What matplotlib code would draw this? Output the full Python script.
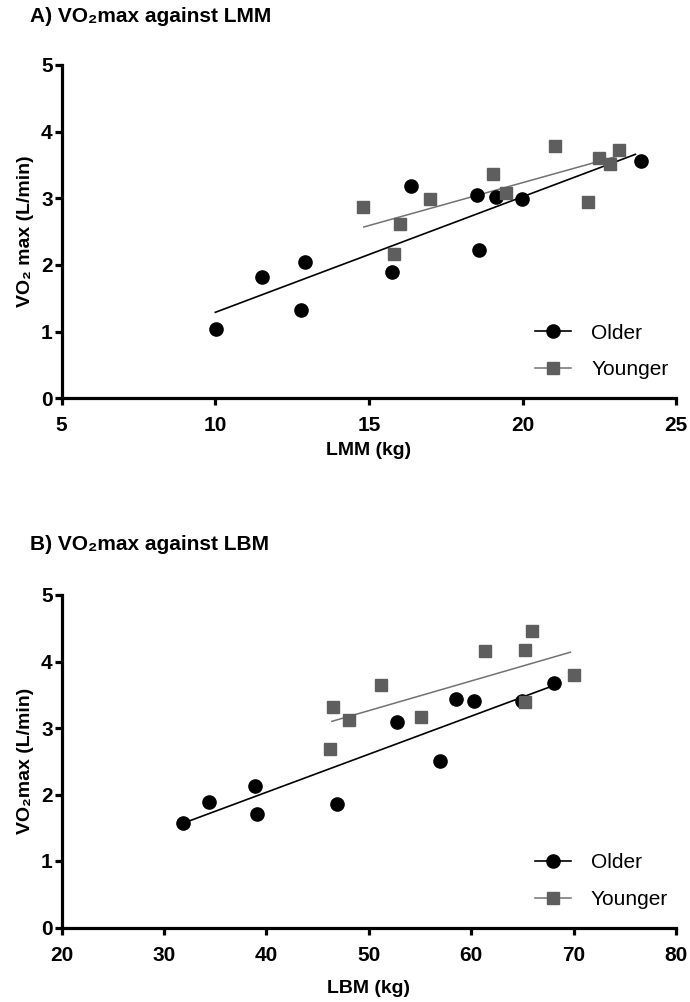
import numpy as np
import matplotlib
matplotlib.use("Agg")
import matplotlib.pyplot as plt
from matplotlib.lines import Line2D

# Panel A: VO2max against LMM
lmm_older = [10.02, 11.53, 12.93, 12.78, 15.76, 16.37, 18.50, 18.58, 19.13, 19.97, 23.85]
vo2_lmm_older = [1.04, 1.82, 2.05, 1.33, 1.89, 3.19, 3.05, 2.22, 3.02, 2.99, 3.56]
lmm_younger = [14.79, 16.00, 15.82, 16.98, 19.04, 19.45, 21.05, 22.13, 22.49, 22.85, 23.15]
vo2_lmm_younger = [2.87, 2.61, 2.16, 2.99, 3.37, 3.08, 3.78, 2.95, 3.60, 3.51, 3.72]
fit_lmm_older_x = [10.0, 23.67]
fit_lmm_older_y = [1.29, 3.66]
fit_lmm_younger_x = [14.83, 23.3]
fit_lmm_younger_y = [2.57, 3.66]

# Panel B: VO2max against LBM
lbm_older = [31.89, 34.43, 38.90, 39.06, 46.91, 52.75, 56.98, 58.54, 60.24, 64.97, 68.12]
vo2_lbm_older = [1.57, 1.88, 2.13, 1.71, 1.86, 3.09, 2.50, 3.44, 3.41, 3.40, 3.67]
lbm_younger = [46.45, 48.02, 46.16, 51.18, 55.12, 61.35, 65.29, 65.94, 65.29, 70.00]
vo2_lbm_younger = [3.32, 3.12, 2.68, 3.64, 3.16, 4.16, 4.18, 4.46, 3.39, 3.79]
fit_lbm_older_x = [31.89, 67.9]
fit_lbm_older_y = [1.57, 3.63]
fit_lbm_younger_x = [46.39, 69.69]
fit_lbm_younger_y = [3.10, 4.14]

labels = ['Older', 'Younger']
xticks_a = [5, 10, 15, 20, 25]
xticks_b = [20, 30, 40, 50, 60, 70, 80]
yticks = [0, 1, 2, 3, 4, 5]

BOLD = ['Liberation Sans Narrow', 'Liberation Sans', 'DejaVu Sans']
REG = ['Liberation Sans', 'DejaVu Sans']
GREY = '#5e5e5e'
GREYLINE = '#727272'

fig = plt.figure(figsize=(6.9, 10.02), dpi=100)

W, H = 690., 1002.


def make_axes(left, right, top, bottom):
    return fig.add_axes([left / W, 1 - bottom / H, (right - left) / W, (bottom - top) / H])


def style(ax, xlim, xticks, xlabel, ylabel, xlabelpad):
    ax.set_xlim(*xlim)
    ax.set_ylim(0, 5)
    ax.set_xticks(xticks)
    ax.set_yticks(yticks)
    for s in ['top', 'right']:
        ax.spines[s].set_visible(False)
    for s in ['left', 'bottom']:
        ax.spines[s].set_linewidth(2.3)
    ax.tick_params(direction='out', length=5, width=2.3, labelsize=15)
    ax.tick_params(axis='x', pad=8)
    ax.tick_params(axis='y', pad=1.5)
    for t in ax.get_xticklabels() + ax.get_yticklabels():
        t.set_fontfamily(BOLD)
        t.set_fontweight('bold')
    ax.set_xlabel(xlabel, fontsize=14, fontweight='bold', family=BOLD, labelpad=xlabelpad)
    ax.set_ylabel(ylabel, fontsize=14, fontweight='bold', family=BOLD, labelpad=5)


def draw(ax, xo, yo, xy, yy, fox, foy, fyx, fyy):
    ax.plot(fox, foy, color='black', lw=1.2, zorder=2)
    ax.plot(fyx, fyy, color=GREYLINE, lw=1.1, zorder=2)
    ax.plot(xo, yo, 'o', color='black', ms=9.5, ls='none', clip_on=False, zorder=3)
    ax.plot(xy, yy, 's', color=GREY, ms=9, ls='none', clip_on=False, zorder=3)
    handles = [Line2D([], [], color='black', lw=1.2, marker='o', ms=9.5),
               Line2D([], [], color=GREYLINE, lw=1.1, marker='s', ms=9,
                      markerfacecolor=GREY, markeredgecolor=GREY)]
    ax.legend(handles, labels, loc='center left', bbox_to_anchor=(0.77, 0.14),
              frameon=False, prop={'family': REG, 'size': 15}, handlelength=1.75,
              handletextpad=0.95, labelspacing=0.85, borderpad=0, borderaxespad=0)


# ---- panel A ----
ax1 = make_axes(61.7, 676.3, 65, 398.3)
draw(ax1, lmm_older, vo2_lmm_older, lmm_younger, vo2_lmm_younger,
     fit_lmm_older_x, fit_lmm_older_y, fit_lmm_younger_x, fit_lmm_younger_y)
style(ax1, (5, 25), xticks_a, 'LMM (kg)', 'VO\u2082 max (L/min)', 5)
fig.text(30 / W, 1 - 17 / H, 'A) VO\u2082max against LMM', fontsize=15, fontweight='bold',
         family=BOLD, va='center', ha='left')

# ---- panel B ----
ax2 = make_axes(61.7, 676.0, 595, 927.5)
draw(ax2, lbm_older, vo2_lbm_older, lbm_younger, vo2_lbm_younger,
     fit_lbm_older_x, fit_lbm_older_y, fit_lbm_younger_x, fit_lbm_younger_y)
style(ax2, (20, 80), xticks_b, 'LBM (kg)', 'VO\u2082max (L/min)', 11)
fig.text(30 / W, 1 - 545 / H, 'B) VO\u2082max against LBM', fontsize=15, fontweight='bold',
         family=BOLD, va='center', ha='left')

fig.savefig('out.png', dpi=100)
